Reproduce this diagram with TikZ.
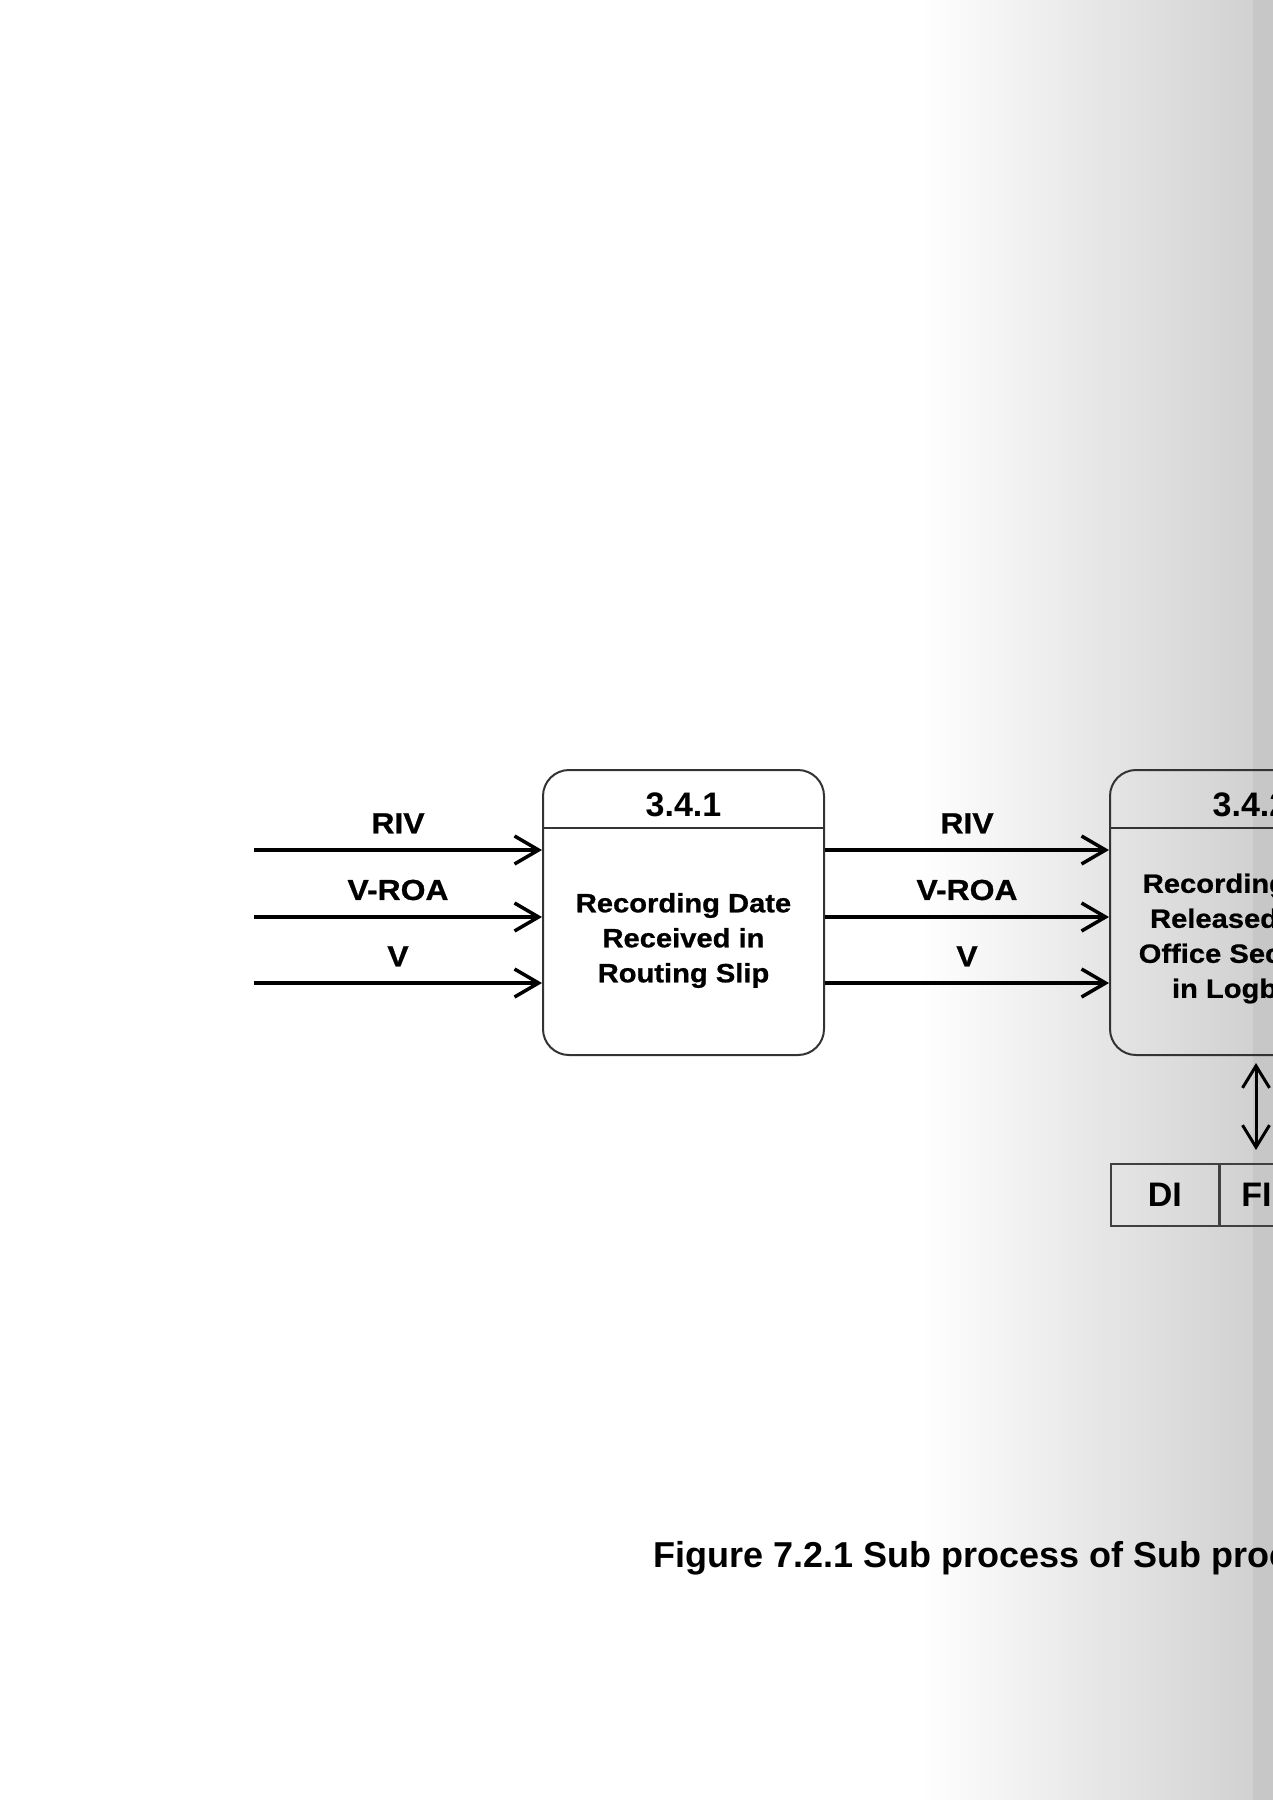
\documentclass[tikz,border=0pt]{standalone}
\usepackage{fontspec}
\setmainfont{Liberation Sans}
\newfontfamily\flowfont[FakeStretch=1.1,FakeBold=0.8]{Liberation Sans}
\usetikzlibrary{arrows.meta,positioning}

\tikzset{
	process/.style={draw=black!80,line width=2pt,rounded corners=26pt,minimum width=281pt,minimum height=285pt,inner sep=0pt},
	ptitle/.style={font=\bfseries\fontsize{34}{40}\selectfont,inner sep=0pt,anchor=base},
	pbody/.style={font=\flowfont\bfseries\fontsize{26.5}{35}\selectfont,align=center,inner sep=0pt},
	flow/.style={line width=3.5pt,-{Straight Barb[length=24pt,width=28pt,line width=3.5pt]}},
	dflow/.style={line width=3pt,{Straight Barb[length=22pt,width=27pt,line width=3pt]}-{Straight Barb[length=22pt,width=27pt,line width=3pt]}},
	flowlabel/.style={font=\flowfont\bfseries\fontsize{29}{34}\selectfont,inner sep=0pt,anchor=south,yshift=15pt},
	store/.style={draw=black!75,line width=1.5pt,minimum height=62pt,inner sep=0pt,font=\bfseries\fontsize{34}{40}\selectfont}
}

\begin{document}
\begin{tikzpicture}[x=1pt,y=-1pt]

		%------------------------------------------------------
		\useasboundingbox (0,0) rectangle (1273,1800);
		\clip (0,0) rectangle (1273,1800);
		\fill[white] (0,0) rectangle (1273,1800);
		\shade[left color=white,right color=black!18] (920,0) rectangle (1253,1800);
		\fill[black!22] (1253,0) rectangle (1273,1800);
		%------------------------------------------------------


		%------------------------------------------------------
		\node[process] (p341) at (683.5,912.5) {};
		\node[ptitle] (t341) at ([yshift=-47pt]p341.north) {3.4.1};
		\draw[draw=black!80,line width=2pt] ([yshift=-59pt]p341.north west) -- ([yshift=-59pt]p341.north east);
		\node[pbody] (b341) at ([yshift=-28pt]p341.center) {Recording Date\\Received in\\Routing Slip};

		\node[process,right=284pt of p341] (p342) {};
		\node[ptitle] (t342) at ([yshift=-47pt]p342.north) {3.4.2};
		\draw[draw=black!80,line width=2pt] ([yshift=-59pt]p342.north west) -- ([yshift=-59pt]p342.north east);
		\node[pbody] (b342) at ([yshift=-26pt]p342.center) {Recording Date\\Released from\\Office Secretary\\in Logbook};
		%------------------------------------------------------


		%------------------------------------------------------
		\coordinate (inRIV) at (254,850);
		\coordinate (inROA) at (254,917);
		\coordinate (inV) at (254,983);

		\draw[flow] (inRIV) -- (inRIV -| p341.west) node[midway,flowlabel] (lRIV) {RIV};
		\draw[flow] (inROA) -- (inROA -| p341.west) node[midway,flowlabel] (lROA) {V-ROA};
		\draw[flow] (inV) -- (inV -| p341.west) node[midway,flowlabel] (lV) {V};

		\draw[flow] (p341.east |- inRIV) -- (p342.west |- inRIV) node[midway,flowlabel] (mRIV) {RIV};
		\draw[flow] (p341.east |- inROA) -- (p342.west |- inROA) node[midway,flowlabel] (mROA) {V-ROA};
		\draw[flow] (p341.east |- inV) -- (p342.west |- inV) node[midway,flowlabel] (mV) {V};
		%------------------------------------------------------


		%------------------------------------------------------
		\node[store,minimum width=108pt,anchor=north west] (dsid) at (1110,1163) {DI};
		\node[store,right=0pt of dsid,text width=260pt,align=left,inner xsep=21pt] (dsname) {FILES};

		\coordinate (tap) at ([xshift=5.5pt,yshift=-7pt]p342.south);
		\draw[dflow,shorten >=13pt] (tap) -- (tap |- dsid.north);
		%------------------------------------------------------


		%------------------------------------------------------
		\node[anchor=base west,font=\bfseries\fontsize{36}{40}\selectfont,inner sep=0pt] (caption) at (653,1567) {Figure 7.2.1 Sub process of Sub process 3.4};
		%------------------------------------------------------

\end{tikzpicture}
\end{document}
